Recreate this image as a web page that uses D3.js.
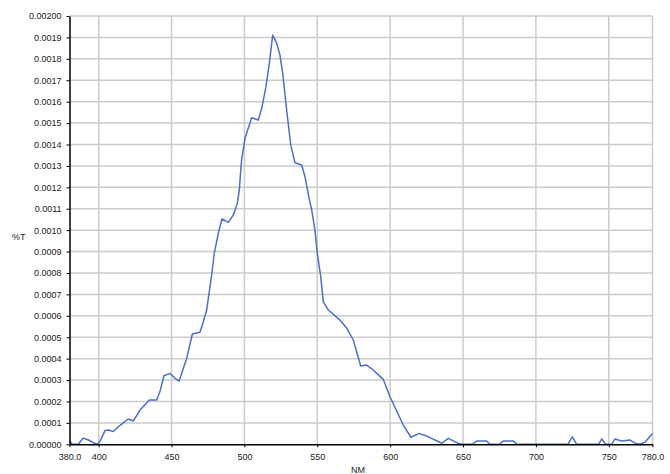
<!DOCTYPE html>
<html>
<head>
<meta charset="utf-8">
<script src="https://cdn.jsdelivr.net/npm/d3@7"></script>
<style>
  html, body { margin: 0; padding: 0; background: #fff; }
  svg { display: block; }
  text { font-family: "Liberation Sans", Arial, sans-serif; }
</style>
</head>
<body>
<svg id="chart" width="670" height="474"></svg>
<script>
// Wavelength (nm) and %T readings
const wavelengths = [380, 382, 386, 389.5, 393, 396.3, 399.3, 401, 404.4, 406.6, 410, 413.5, 415.8, 420.3, 423.8, 428.4, 434.8, 439.8, 442, 444.8, 449, 452.4, 455.2, 457.7, 460.4, 464.3, 469.5, 471.8, 474.1, 476.4, 478, 479.3, 482.1, 484.6, 489, 492.4, 495.1, 496.5, 497.5, 498.1, 500.4, 505, 509.5, 511.9, 514.8, 517.1, 519.4, 522.2, 524.4, 526.3, 529, 531.8, 534.7, 539.3, 541.6, 544.4, 546.2, 548.4, 550, 552.4, 554.1, 557.6, 565.6, 570.2, 574.7, 579.8, 583.9, 588.4, 595.3, 599.9, 609, 614.3, 619.8, 626.2, 635.4, 639.9, 645.7, 649.1, 656.2, 659.4, 666.2, 668.5, 674.7, 677.6, 684.5, 687, 698, 722, 725, 728, 743, 745.2, 747.9, 752, 754.3, 758.9, 764.6, 768, 771.4, 774.8, 780];
const transmittance = [0.000015, 0, 0, 0.000029, 0.00002, 0.0000075, 0, 0.000015, 0.000065, 0.000067, 0.00006, 0.000082, 0.000094, 0.000118, 0.000109, 0.00016, 0.000207, 0.000207, 0.000245, 0.00032, 0.000331, 0.000308, 0.000295, 0.000347, 0.000401, 0.000515, 0.000523, 0.000572, 0.000627, 0.000736, 0.000814, 0.000892, 0.000985, 0.001052, 0.001036, 0.001071, 0.001125, 0.001187, 0.00128, 0.001328, 0.001429, 0.001525, 0.001514, 0.001569, 0.00167, 0.001779, 0.001911, 0.001872, 0.001817, 0.001732, 0.00156, 0.001397, 0.001315, 0.001304, 0.001249, 0.001148, 0.001094, 0.001, 0.000892, 0.000782, 0.000666, 0.000627, 0.00058, 0.000542, 0.000487, 0.000366, 0.00037, 0.000347, 0.000303, 0.000222, 0.00009, 0.000033, 0.000051, 0.000035, 0.000005, 0.000028, 0.0000075, 0, 0, 0.000015, 0.000015, 0, 0, 0.000015, 0.000015, 0, 0, 0, 0.000035, 0, 0, 0.000025, 0, 0, 0.000025, 0.000015, 0.00002, 0.000005, 0, 0.00001, 0.00005];

const xTicks = [380, 400, 450, 500, 550, 600, 650, 700, 750, 780];
const xGridTicks = [400, 450, 500, 550, 600, 650, 700, 750, 780];
const yTicks = d3.range(0, 21).map(i => i * 0.0001);
const xTitle = "NM";
const yTitle = "%T";

(function () {
const svg = d3.select("#chart");
const pLeft = 69.5, pRight = 652.5, pTop = 16, pBottom = 444.3;

const x = d3.scaleLinear().domain([380, 780]).range([pLeft, pRight]);
const y = d3.scaleLinear().domain([0, 0.002]).range([pBottom, pTop]);

// gridlines
const grid = svg.append("g").attr("stroke", "#cbcbcb").attr("stroke-width", 1.5);
grid.selectAll("line.h").data(yTicks.slice(1)).join("line")
  .attr("x1", pLeft).attr("x2", pRight)
  .attr("y1", d => y(d)).attr("y2", d => y(d));
grid.selectAll("line.v").data(xGridTicks).join("line")
  .attr("x1", d => x(d)).attr("x2", d => x(d))
  .attr("y1", pTop).attr("y2", pBottom);

// data line
const data = wavelengths.map((w, i) => [w, transmittance[i]]);
svg.append("defs").append("clipPath").attr("id", "clip")
  .append("rect").attr("x", pLeft).attr("y", pTop - 2).attr("width", pRight - pLeft + 2).attr("height", pBottom - pTop + 2);
svg.append("path")
  .datum(data)
  .attr("clip-path", "url(#clip)")
  .attr("fill", "none")
  .attr("stroke", "#4a6fcc")
  .attr("stroke-width", 1.5)
  .attr("stroke-linejoin", "round")
  .attr("d", d3.line().x(d => x(d[0])).y(d => y(d[1])));

// axes
const fmtY = v => (Math.abs(v) < 1e-12 ? "0.00000" : Math.abs(v - 0.002) < 1e-12 ? "0.00200" : v.toFixed(4));
const fmtX = v => (v === 380 || v === 780) ? v.toFixed(1) : String(v);

const yAxis = svg.append("g").attr("transform", `translate(${pLeft},0)`)
  .call(d3.axisLeft(y).tickValues(yTicks).tickFormat(fmtY).tickSize(3).tickPadding(5).tickSizeOuter(0));
const xAxis = svg.append("g").attr("transform", `translate(0,${pBottom})`)
  .call(d3.axisBottom(x).tickValues(xTicks).tickFormat(fmtX).tickSize(3).tickPadding(6).tickSizeOuter(0));

[yAxis, xAxis].forEach(g => {
  g.select(".domain").attr("stroke", "#000").attr("stroke-width", 1.5);
  g.selectAll(".tick line").attr("stroke", "#000").attr("stroke-width", 1);
  g.selectAll(".tick text").attr("fill", "#222").style("font-size", "9px")
    .style("font-family", '"Liberation Sans", Arial, sans-serif');
});

svg.append("text").attr("x", 12).attr("y", 240).attr("fill", "#222")
  .style("font-size", "9px").text(yTitle);
svg.append("text").attr("x", 358).attr("y", 473).attr("text-anchor", "middle").attr("fill", "#222")
  .style("font-size", "9px").text(xTitle);
})();
</script>
</body>
</html>
